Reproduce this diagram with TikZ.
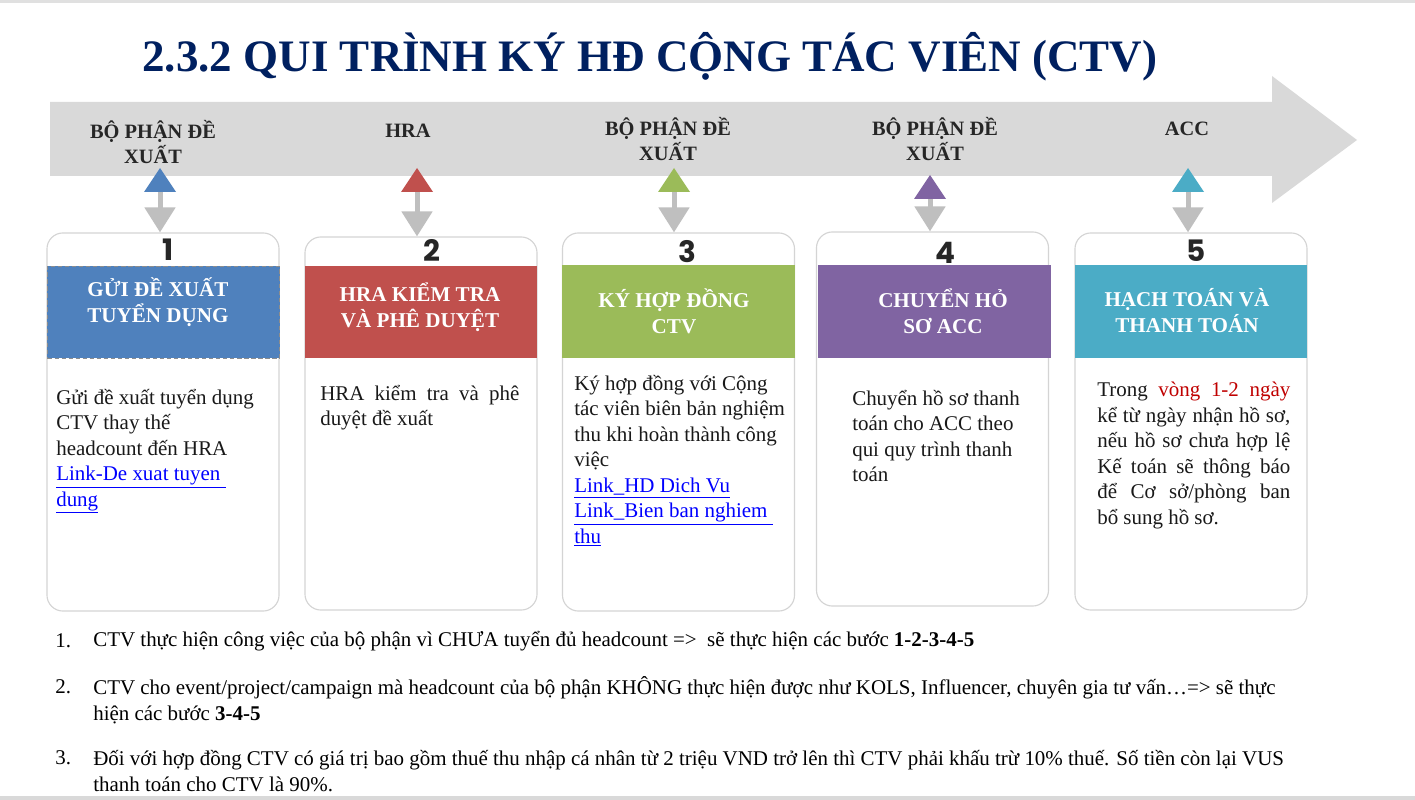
\documentclass[tikz,border=0pt]{standalone}
\usepackage{fontspec}
\setmainfont{Liberation Serif}
\newfontfamily\numfont{Poppins}
\usetikzlibrary{arrows.meta,positioning}

\definecolor{bandgray}{HTML}{D9D9D9}
\definecolor{stemgray}{HTML}{BFBFBF}
\definecolor{cardline}{HTML}{D4D4D4}
\definecolor{navy}{HTML}{002060}
\definecolor{stepblue}{HTML}{4F81BD}
\definecolor{stepred}{HTML}{C0504D}
\definecolor{stepgreen}{HTML}{9BBB59}
\definecolor{steppurple}{HTML}{8064A2}
\definecolor{stepteal}{HTML}{4BACC6}
\definecolor{linkblue}{HTML}{0000FF}
\definecolor{darkred}{HTML}{C00000}
\definecolor{inkgray}{HTML}{262626}

\newcommand{\lnk}[1]{\textcolor{linkblue}{\underline{#1}}}

\begin{document}
\begin{tikzpicture}[
        x=0.025cm, y=-0.025cm,
        title/.style={font=\fontsize{32}{36}\selectfont\bfseries, text=navy, inner sep=0pt},
        lane/.style={align=center, text=inkgray, inner sep=0pt, font=\fontsize{14.5}{17.8}\selectfont\bfseries},
        card/.style={draw=cardline, line width=0.8pt, fill=white, rounded corners=0.4cm, minimum width=5.8cm},
        header/.style={minimum width=5.8cm, minimum height=2.3cm, inner sep=0pt},
        headtext/.style={align=center, text=white, inner sep=0pt, font=\fontsize{15}{18.5}\selectfont\bfseries},
        stepnum/.style={inner sep=0pt, text=inkgray, font=\numfont\fontsize{21}{24}\selectfont\bfseries},
        body/.style={anchor=north west, align=left, inner sep=0pt, text=black!90, font=\fontsize{14.9}{18.1}\selectfont},
        stem/.style={draw=stemgray, line width=0.125cm, -{Triangle[width=0.75cm, length=0.625cm]}},
        listnum/.style={anchor=west, inner sep=0pt, font=\fontsize{14.9}{18.5}\selectfont},
        listtxt/.style={anchor=west, align=left, inner sep=0pt, font=\fontsize{14.9}{18.5}\selectfont}
    ]
    \useasboundingbox (0,0) rectangle (1415,800);
    \fill[white] (0,0) rectangle (1415,800);
    \fill[black!12] (0,0) rectangle (1415,3);
    \fill[black!15] (0,796) rectangle (1415,800);

    % --- Title ---
    \node[title] (title) at (650,57) {2.3.2 QUI TRÌNH KÝ HĐ CỘNG TÁC VIÊN (CTV)};

    % --- Timeline arrow ---
    \fill[bandgray] (50,102) -- (1272,102) -- (1272,76) -- (1357,140) -- (1272,203) -- (1272,176) -- (50,176) -- cycle;
    \node[lane] (lane1) at (153,142.5) {BỘ PHẬN ĐỀ\\XUẤT};
    \node[lane] (lane2) at (408,131) {HRA};
    \node[lane] (lane3) at (668,139.5) {BỘ PHẬN ĐỀ\\XUẤT};
    \node[lane] (lane4) at (935,139.5) {BỘ PHẬN ĐỀ\\XUẤT};
    \node[lane] (lane5) at (1187,129) {ACC};

    % --- Cards ---
    \node[card, minimum height=9.45cm] (card1) at (163,422) {};
    \node[card, minimum height=9.325cm] (card2) at (421,423.5) {};
    \node[card, minimum height=9.45cm] (card3) at (678.5,422) {};
    \node[card, minimum height=9.35cm] (card4) at (932.5,419) {};
    \node[card, minimum height=9.425cm] (card5) at (1191,421.5) {};

    % --- Markers and links to the cards ---
    \coordinate (tri1) at (160,192);
    \coordinate (tri2) at (417,192);
    \coordinate (tri3) at (674,192);
    \coordinate (tri4) at (930,199);
    \coordinate (tri5) at (1188,192);
    \foreach \i/\c in {1/stepblue, 2/stepred, 3/stepgreen, 4/steppurple, 5/stepteal} {
        \draw[stem] (tri\i) -- (tri\i |- card\i.north);
        \fill[\c] (tri\i) ++(-16,0) -- ++(16,-24) -- ++(16,24) -- cycle;
    }

    % --- Headers ---
    \node[header, fill=stepblue, draw=black!45, densely dashed, line width=0.6pt] (head1) at (163.5,312) {};
    \node[header, fill=stepred] (head2) at (421,312) {};
    \node[header, fill=stepgreen] (head3) at (678.5,311.5) {};
    \node[header, fill=steppurple] (head4) at (934.5,311.5) {};
    \node[header, fill=stepteal] (head5) at (1191,311.5) {};

    \node[headtext] (htext1) at (158,302.5) {GỬI ĐỀ XUẤT\\TUYỂN DỤNG};
    \node[headtext] (htext2) at (420,307.5) {HRA KIỂM TRA\\VÀ PHÊ DUYỆT};
    \node[headtext] (htext3) at (674,311.5) {KÝ HỢP ĐỒNG\\CTV};
    \node[headtext] (htext4) at (943,311.5) {CHUYỂN HỎ\\SƠ ACC};
    \node[headtext] (htext5) at (1187,310.5) {HẠCH TOÁN VÀ\\THANH TOÁN};

    \node[stepnum] (num1) at (168,250) {1};
    \node[stepnum] (num2) at (432,250) {2};
    \node[stepnum] (num3) at (687,252) {3};
    \node[stepnum] (num4) at (945,253) {4};
    \node[stepnum] (num5) at (1196,251) {5};

    % --- Card texts ---
    \node[body] (body1) at (56,389) {Gửi đề xuất tuyển dụng\\CTV thay thế\\headcount đến HRA\\\lnk{Link-De xuat tuyen\ }\\\lnk{dung}};
    \node[body] (body2) at (320,385) {\makebox[4.975cm][s]{HRA kiểm tra và phê}\\duyệt đề xuất};
    \node[body] (body3) at (574,375) {Ký hợp đồng với Cộng\\tác viên biên bản nghiệm\\thu khi hoàn thành công\\việc\\\lnk{Link\_HD Dich Vu}\\\lnk{Link\_Bien ban nghiem\ }\\\lnk{thu}};
    \node[body] (body4) at (852,390) {Chuyển hồ sơ thanh\\toán cho ACC theo\\qui quy trình thanh\\toán};
    \node[body] (body5) at (1097,382) {\makebox[4.825cm][s]{Trong \textcolor{darkred}{vòng 1-2 ngày}}\\\makebox[4.825cm][s]{kể từ ngày nhận hồ sơ,}\\\makebox[4.825cm][s]{nếu hồ sơ chưa hợp lệ}\\\makebox[4.825cm][s]{Kế toán sẽ thông báo}\\\makebox[4.825cm][s]{để Cơ sở/phòng ban}\\bổ sung hồ sơ.};

    % --- Notes ---
    \node[listnum] (n1) at (55,641) {1.};
    \node[listtxt] (item1) at (93,641) {CTV thực hiện công việc của bộ phận vì CHƯA tuyển đủ headcount =>~ sẽ thực hiện các bước \textbf{1-2-3-4-5}};
    \node[listnum] (n2) at (55,687) {2.};
    \node[listtxt] (item2) at (93,700) {CTV cho event/project/campaign mà headcount của bộ phận KHÔNG thực hiện được như KOLS, Influencer, chuyên gia tư vấn…=> sẽ thực\\hiện các bước \textbf{3-4-5}};
    \node[listnum] (n3) at (55,758) {3.};
    \node[listtxt] (item3) at (93,771) {Đối với hợp đồng CTV có giá trị bao gồm thuế thu nhập cá nhân từ 2 triệu VND trở lên thì CTV phải khấu trừ 10\% thuế. Số tiền còn lại VUS\\thanh toán cho CTV là 90\%.};

    \end{tikzpicture}
\end{document}
